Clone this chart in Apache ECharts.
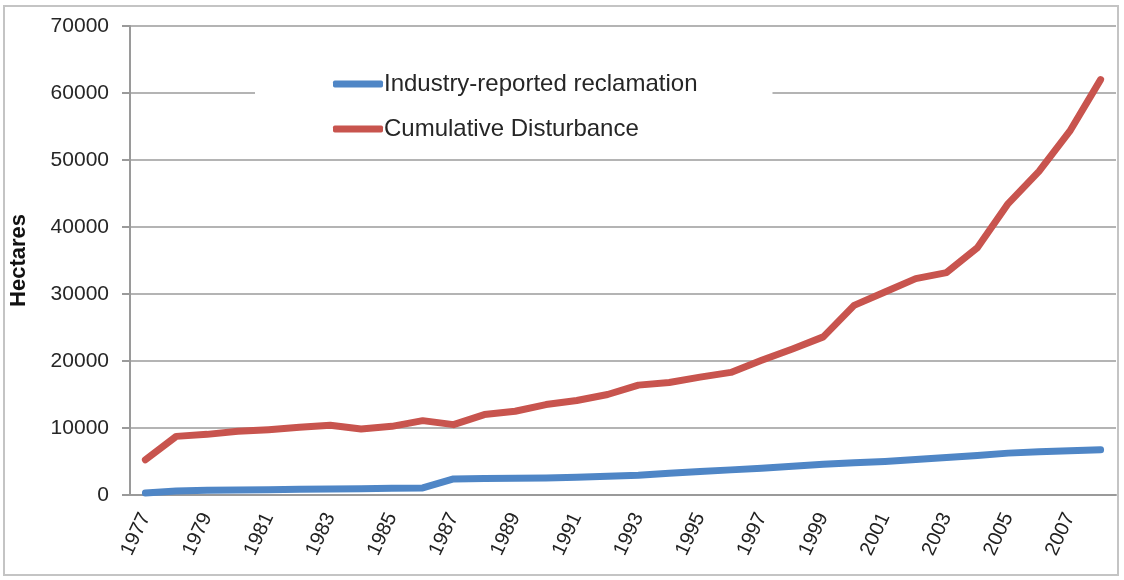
<!DOCTYPE html>
<html>
<head>
<meta charset="utf-8">
<script src="https://cdn.jsdelivr.net/npm/echarts@6/dist/echarts.min.js"></script>
<style>
  html, body { margin: 0; padding: 0; background: #fff; }
  #chart { width: 1124px; height: 580px; }
</style>
</head>
<body>
<div id="chart"></div>
<script>
// years on the category axis
const years = []
for (let y = 1977; y <= 2008; y++) years.push(String(y))

// hectares
const reclamation = [300, 600, 700, 750, 800, 850, 900, 950, 1000, 1050,
  2400, 2450, 2500, 2550, 2650, 2800, 2950, 3250, 3500, 3750,
  4000, 4300, 4600, 4800, 5000, 5300, 5600, 5900, 6250, 6450, 6600, 6750]
const disturbance = [5250, 8750, 9050, 9500, 9750, 10100, 10400, 9850, 10250, 11100,
  10500, 12000, 12500, 13500, 14100, 15000, 16400, 16800, 17600, 18300,
  20100, 21800, 23600, 28300, 30300, 32300, 33200, 36900, 43500, 48300, 54300, 62000]

const chart = echarts.init(document.getElementById('chart'))

chart.setOption({
  animation: false,
  textStyle: { fontFamily: 'Liberation Sans, Arial, sans-serif' },
  graphic: [{
    type: 'rect',
    shape: { x: 4, y: 6, width: 1114, height: 569 },
    style: { fill: 'none', stroke: '#c4c4c4', lineWidth: 2 },
    z: -1
  }],
  grid: { left: 127, right: 8, top: 26, bottom: 85 },
  legend: {
    orient: 'vertical',
    left: 255,
    top: 64,
    padding: [8, 75, 8, 78],
    itemGap: 21,
    itemWidth: 50,
    itemHeight: 7,
    backgroundColor: '#fff',
    icon: 'roundRect',
    textStyle: { fontSize: 24, color: '#262626', padding: [0, 0, 0, -4] },
    data: ['Industry-reported reclamation', 'Cumulative Disturbance']
  },
  xAxis: {
    type: 'category',
    data: years,
    boundaryGap: true,
    axisLine: { lineStyle: { color: '#9a9a9a', width: 2 } },
    axisTick: { length: 7, lineStyle: { color: '#9a9a9a', width: 2 } },
    axisLabel: { interval: 1, rotate: 65, fontSize: 20, color: '#222', margin: 19 }
  },
  yAxis: {
    type: 'value',
    min: 0,
    max: 70000,
    interval: 10000,
    name: 'Hectares',
    nameLocation: 'middle',
    nameGap: 100,
    nameTextStyle: { fontSize: 22, fontWeight: 'bold', color: '#111' },
    axisLine: { show: true, lineStyle: { color: '#9a9a9a', width: 2 } },
    axisTick: { show: true, length: 8, lineStyle: { color: '#9a9a9a', width: 2 } },
    axisLabel: { fontSize: 21, color: '#262626', margin: 21, formatter: v => String(v) },
    splitLine: { lineStyle: { color: '#b4b4b4', width: 2 } }
  },
  series: [
    {
      name: 'Industry-reported reclamation',
      type: 'line',
      data: reclamation,
      showSymbol: false,
      color: '#4f86c6',
      lineStyle: { width: 7, cap: 'round', join: 'round' }
    },
    {
      name: 'Cumulative Disturbance',
      type: 'line',
      data: disturbance,
      showSymbol: false,
      color: '#c8544e',
      lineStyle: { width: 7, cap: 'round', join: 'round' }
    }
  ]
})

window.addEventListener('resize', () => chart.resize())
</script>
</body>
</html>
